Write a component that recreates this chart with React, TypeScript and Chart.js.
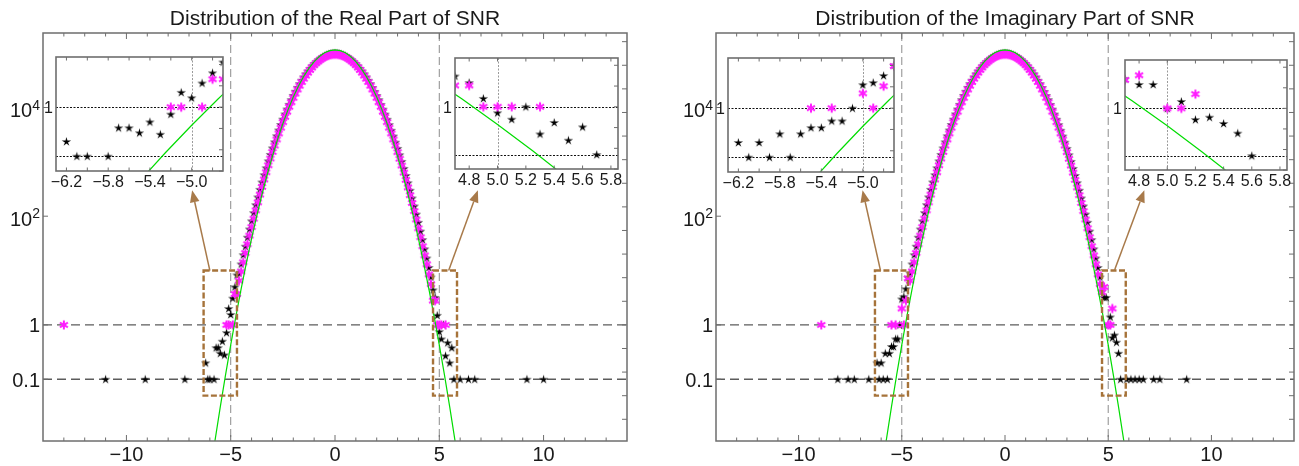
import React, { useEffect, useRef } from 'react';
import { Chart, registerables } from 'chart.js';
Chart.register(...registerables);

const FONT = '"Liberation Sans", Arial, Helvetica, sans-serif';

// ---------------- data ----------------
const CORE_X = [
  -4.6, -4.5, -4.4, -4.3, -4.2, -4.1, -4.0, -3.9, -3.8, -3.7, -3.6, -3.5, -3.4, -3.3, -3.2, -3.1,
  -3.0, -2.9, -2.8, -2.7, -2.6, -2.5, -2.4, -2.3, -2.2, -2.1, -2.0, -1.9, -1.8, -1.7, -1.6, -1.5,
  -1.4, -1.3, -1.2, -1.1, -1.0, -0.9, -0.8, -0.7, -0.6, -0.5, -0.4, -0.3, -0.2, -0.1, 0,
  0.1, 0.2, 0.3, 0.4, 0.5, 0.6, 0.7, 0.8, 0.9, 1.0, 1.1, 1.2, 1.3, 1.4, 1.5, 1.6, 1.7, 1.8, 1.9,
  2.0, 2.1, 2.2, 2.3, 2.4, 2.5, 2.6, 2.7, 2.8, 2.9, 3.0, 3.1, 3.2, 3.3, 3.4, 3.5, 3.6, 3.7, 3.8,
  3.9, 4.0, 4.1, 4.2, 4.3, 4.4, 4.5, 4.6,
];
const CORE_BLACK = [
  9.0, 13.2, 19.5, 28, 41, 58, 82, 116, 162, 226, 312, 425, 578, 775, 1040, 1370,
  1800, 2330, 3010, 3850, 4870, 6110, 7600, 9380, 11450, 13900, 16700, 19900, 23500, 27400, 31800, 36500,
  41500, 46900, 52400, 58100, 63900, 69500, 75100, 80300, 85100, 89400, 93100, 96000, 98200, 99500, 100000,
  99500, 98200, 96000, 93100, 89400, 85100, 80300, 75100, 69500, 63900, 58100, 52400, 46900, 41500, 36500,
  31700, 27400, 23400, 19800, 16600, 13900, 11400, 9330, 7560, 6070, 4830, 3810, 2980, 2300, 1770, 1350,
  1020, 758, 562, 412, 300, 216, 154, 109, 77, 53, 37, 25, 17, 11.4, 7.6,
];
const CORE_MAGENTA = [
  6.5, 9.6, 14.2, 21, 30.5, 44, 63, 90, 128, 180, 250, 346, 474, 642, 864, 1150,
  1520, 1990, 2580, 3330, 4250, 5370, 6730, 8360, 10300, 12500, 15100, 18100, 21500, 25200, 29400, 33900,
  38700, 43900, 49200, 54700, 60300, 65800, 71100, 76200, 80900, 85100, 88700, 91600, 93800, 95100, 95500,
  95100, 93800, 91600, 88700, 85100, 80900, 76200, 71100, 65800, 60300, 54700, 49200, 43900, 38700, 33900,
  29400, 25200, 21500, 18100, 15100, 12500, 10300, 8360, 6730, 5370, 4250, 3330, 2580, 1990, 1510, 1140,
  855, 634, 466, 339, 244, 175, 124, 87, 60, 41, 28, 19, 13, 8.5, 5.6,
];

const GREEN_X = [
  -6, -5.75, -5.5, -5.25, -5, -4.75, -4.5, -4.25, -4, -3.75, -3.5, -3.25, -3, -2.75, -2.5, -2.25,
  -2, -1.75, -1.5, -1.25, -1, -0.75, -0.5, -0.25, 0, 0.25, 0.5, 0.75, 1, 1.25, 1.5, 1.75, 2,
  2.25, 2.5, 2.75, 3, 3.25, 3.5, 3.75, 4, 4.25, 4.5, 4.75, 5, 5.25, 5.5, 5.75, 6,
];
const GREEN_Y = [
  0.00175, 0.0076, 0.031, 0.119, 0.428, 1.45, 4.61, 13.75, 38.6, 101.6, 251.6, 585, 1277, 2621, 5052, 9150,
  15560, 24870, 37340, 52640, 69750, 86800, 101500, 111500, 115000, 111500, 101500, 86800, 69750, 52640,
  37340, 24870, 15560, 9150, 5052, 2621, 1277, 585, 251.6, 101.6, 38.6, 13.75, 4.61, 1.45, 0.428, 0.119,
  0.031, 0.0076, 0.00175,
];

const REAL_BLACK_TAIL_X = [
  -11.0, -9.1, -7.2, -6.2, -6.1, -6.0, -5.8, -5.7, -5.6, -5.5, -5.4, -5.3, -5.2, -5.1, -5.0, -4.9, -4.8, -4.7,
  4.7, 4.8, 4.9, 5.0, 5.1, 5.2, 5.3, 5.4, 5.5, 5.6, 5.7, 6.0, 6.4, 6.7, 9.2, 10.0,
];
const REAL_BLACK_TAIL_Y = [
  0.1, 0.1, 0.1, 0.2, 0.1, 0.1, 0.1, 0.38, 0.38, 0.3, 0.5, 0.28, 0.72, 2.0, 1.55, 3.1, 5.0, 8.3,
  4.4, 3.2, 1.5, 0.75, 0.55, 1.0, 0.27, 0.47, 0.2, 0.38, 0.1, 0.1, 0.1, 0.1, 0.1, 0.1,
];
const REAL_MAGENTA_TAIL_X = [-13.0, -5.2, -5.1, -4.9, -4.8, -4.7, 4.7, 4.8, 4.9, 5.0, 5.1, 5.3];
const REAL_MAGENTA_TAIL_Y = [1, 1, 1, 1, 3.7, 3.7, 2.8, 2.8, 1, 1, 1, 1];

const IMAG_BLACK_TAIL_X = [
  -8.1, -7.6, -7.3, -6.6, -6.2, -6.1, -6.0, -5.9, -5.8, -5.7, -5.6, -5.5, -5.4, -5.3, -5.2, -5.1, -5.0, -4.9, -4.8, -4.7,
  4.7, 4.8, 4.9, 5.0, 5.1, 5.2, 5.3, 5.4, 5.5, 5.6, 5.9, 6.1, 6.3, 6.5, 6.7, 7.2, 7.5, 8.8,
];
const IMAG_BLACK_TAIL_Y = [
  0.1, 0.1, 0.1, 0.1, 0.2, 0.1, 0.2, 0.1, 0.3, 0.1, 0.3, 0.4, 0.4, 0.55, 0.55, 1.0, 3.0, 3.3, 4.6, 7.5,
  4.2, 3.2, 3.2, 1.0, 1.4, 0.58, 0.65, 0.48, 0.3, 0.1, 0.1, 0.1, 0.1, 0.1, 0.1, 0.1, 0.1, 0.1,
];
const IMAG_MAGENTA_TAIL_X = [-8.9, -5.5, -5.3, -5.0, -4.9, -4.8, -4.7, 4.7, 4.8, 5.0, 5.1, 5.2];
const IMAG_MAGENTA_TAIL_Y = [1, 1, 1, 2.0, 1, 2.8, 7.2, 4.0, 5.0, 1, 1, 2.0];

const MAIN_X_TICKS = [-10, -5, 0, 5, 10];
const MAIN_Y_TICKS = [0.1, 1, 100, 10000];
const MAIN_Y_LABELS = [['0.1', ''], ['1', ''], ['10', '2'], ['10', '4']];
const NEG_INSET_TICKS = [-6.2, -5.8, -5.4, -5.0];
const NEG_INSET_LABELS = ['\u22126.2', '\u22125.8', '\u22125.4', '\u22125.0'];
const POS_INSET_TICKS = [4.8, 5.0, 5.2, 5.4, 5.6, 5.8];
const POS_INSET_LABELS = ['4.8', '5.0', '5.2', '5.4', '5.6', '5.8'];

// ---------------- layout / style ----------------
const H = 466;
const MAIN_TOP = 33;
const MAIN_AXIS_H = 25;
const Y_MIN = 0.0073;
const Y_MAX = 2.35e5;
const INSET_Y_MIN = 0.05;
const INSET_Y_MAX = 10.5;
const INSET_PAD_L = 22, INSET_PAD_R = 10, INSET_PAD_T = 2, INSET_AXIS_H = 24;
const BROWN = '#a6733a';
const ARROW = '#a87a4a';
const TEXT = '#1a1a1a';
const FRAME = '#6e6e6e';

const pts = (xs: number[], ys: number[]) => xs.map((x, i) => ({ x, y: ys[i] }));

const PANELS = [
  {
    title: 'Distribution of the Real Part of SNR',
    left: 0, width: 650, padL: 43, padR: 23,
    black: [...pts(REAL_BLACK_TAIL_X, REAL_BLACK_TAIL_Y), ...pts(CORE_X, CORE_BLACK)],
    magenta: [...pts(REAL_MAGENTA_TAIL_X, REAL_MAGENTA_TAIL_Y), ...pts(CORE_X, CORE_MAGENTA)],
    arrows: [[-6.0, 10, -6.85, 300], [5.45, 10, 6.85, 300]],
    insets: [
      { box: [56, 54, 223, 171], xMin: -6.3, xMax: -4.7, ticks: NEG_INSET_TICKS, labels: NEG_INSET_LABELS, vline: -5 },
      { box: [455, 55, 618, 169], xMin: 4.7, xMax: 5.85, ticks: POS_INSET_TICKS, labels: POS_INSET_LABELS, vline: 5 },
    ],
  },
  {
    title: 'Distribution of the Imaginary Part of SNR',
    left: 650, width: 649, padL: 66, padR: 1,
    black: [...pts(IMAG_BLACK_TAIL_X, IMAG_BLACK_TAIL_Y), ...pts(CORE_X, CORE_BLACK)],
    magenta: [...pts(IMAG_MAGENTA_TAIL_X, IMAG_MAGENTA_TAIL_Y), ...pts(CORE_X, CORE_MAGENTA)],
    arrows: [[-6.03, 10, -6.9, 300], [5.3, 10, 6.75, 300]],
    insets: [
      { box: [728, 55, 894, 172], xMin: -6.3, xMax: -4.7, ticks: NEG_INSET_TICKS, labels: NEG_INSET_LABELS, vline: -5 },
      { box: [1125, 57, 1287, 170], xMin: 4.7, xMax: 5.85, ticks: POS_INSET_TICKS, labels: POS_INSET_LABELS, vline: 5 },
    ],
  },
];

// ---------------- markers ----------------
function makeBlackStar() {
  const c = document.createElement('canvas');
  c.width = 11; c.height = 11;
  const g = c.getContext('2d')!;
  g.fillStyle = '#000';
  g.beginPath();
  for (let i = 0; i < 10; i++) {
    const r = i % 2 === 0 ? 4.9 : 1.6;
    const ang = -Math.PI / 2 + (i * Math.PI) / 5;
    const px = 5.5 + r * Math.cos(ang);
    const py = 5.9 + r * Math.sin(ang);
    if (i === 0) g.moveTo(px, py); else g.lineTo(px, py);
  }
  g.closePath();
  g.fill();
  return c;
}
function makeMagentaStar() {
  const c = document.createElement('canvas');
  c.width = 12; c.height = 12;
  const g = c.getContext('2d')!;
  g.strokeStyle = '#ff1eff';
  g.lineWidth = 2;
  [90, 30, 150].forEach((deg) => {
    const t = (deg * Math.PI) / 180;
    const dx = 4.6 * Math.cos(t), dy = 4.6 * Math.sin(t);
    g.beginPath();
    g.moveTo(6 - dx, 6 - dy);
    g.lineTo(6 + dx, 6 + dy);
    g.stroke();
  });
  return c;
}

const fmtNum = (v: number) => (v < 0 ? '\u2212' + Math.abs(v) : String(v));

function datasets(p: any, imgs: any) {
  return [
    { label: 'fit', data: pts(GREEN_X, GREEN_Y), showLine: true, pointRadius: 0, borderColor: '#00dc00', borderWidth: 1.2, order: 0, clip: 0 },
    { label: 'magenta', data: p.magenta, pointStyle: imgs.m, pointRadius: 4, order: 1, clip: 0 },
    { label: 'black', data: p.black, pointStyle: imgs.b, pointRadius: 4, order: 2, clip: 0 },
  ];
}

function drawArrow(ctx: CanvasRenderingContext2D, x0: number, y0: number, x1: number, y1: number) {
  const ang = Math.atan2(y1 - y0, x1 - x0);
  const L = 12, Wd = 4.8;
  const bx = x1 - L * Math.cos(ang), by = y1 - L * Math.sin(ang);
  ctx.beginPath(); ctx.moveTo(x0, y0); ctx.lineTo(bx, by); ctx.stroke();
  ctx.beginPath();
  ctx.moveTo(x1, y1);
  ctx.lineTo(bx + Wd * Math.sin(ang), by - Wd * Math.cos(ang));
  ctx.lineTo(bx - Wd * Math.sin(ang), by + Wd * Math.cos(ang));
  ctx.closePath();
  ctx.fill();
}

function mainPlugin(p: any) {
  return {
    id: 'mainDecor',
    beforeDatasetsDraw(chart: any) {
      const { ctx, chartArea: a } = chart;
      const x = chart.scales.x, y = chart.scales.y;
      ctx.save();
      ctx.beginPath(); ctx.rect(a.left, a.top, a.right - a.left, a.bottom - a.top); ctx.clip();
      ctx.lineWidth = 1.3; ctx.strokeStyle = '#5c5c5c'; ctx.setLineDash([9, 5]);
      [1, 0.1].forEach((v) => {
        const py = y.getPixelForValue(v);
        ctx.beginPath(); ctx.moveTo(a.left, py); ctx.lineTo(a.right, py); ctx.stroke();
      });
      ctx.lineWidth = 1; ctx.strokeStyle = '#8c8c8c'; ctx.setLineDash([8, 4]);
      [-5, 5].forEach((v) => {
        const px = x.getPixelForValue(v);
        ctx.beginPath(); ctx.moveTo(px, a.top); ctx.lineTo(px, a.bottom); ctx.stroke();
      });
      ctx.restore();
    },
    afterDatasetsDraw(chart: any) {
      const { ctx } = chart;
      const x = chart.scales.x, y = chart.scales.y;
      ctx.save();
      ctx.strokeStyle = BROWN; ctx.lineWidth = 2.4; ctx.setLineDash([6, 2.5]);
      p.insets.forEach((ins: any) => {
        const x0 = x.getPixelForValue(ins.xMin), x1 = x.getPixelForValue(ins.xMax);
        const y0 = y.getPixelForValue(10), y1 = y.getPixelForValue(0.05);
        ctx.strokeRect(x0, y0, x1 - x0, y1 - y0);
      });
      ctx.setLineDash([]); ctx.lineWidth = 1.5; ctx.strokeStyle = ARROW; ctx.fillStyle = ARROW;
      p.arrows.forEach((ar: number[]) => {
        drawArrow(ctx, x.getPixelForValue(ar[0]), y.getPixelForValue(ar[1]), x.getPixelForValue(ar[2]), y.getPixelForValue(ar[3]));
      });
      ctx.restore();
    },
    afterDraw(chart: any) {
      const { ctx, chartArea: a } = chart;
      const x = chart.scales.x, y = chart.scales.y;
      ctx.save();
      // frame
      ctx.strokeStyle = FRAME; ctx.lineWidth = 1.5;
      ctx.strokeRect(a.left, a.top, a.right - a.left, a.bottom - a.top);
      ctx.lineWidth = 1;
      // x ticks (bottom & top)
      for (let v = -13; v <= 13; v++) {
        const px = x.getPixelForValue(v);
        const len = v % 5 === 0 ? 6 : 3.5;
        ctx.beginPath();
        ctx.moveTo(px, a.bottom); ctx.lineTo(px, a.bottom - len);
        ctx.moveTo(px, a.top); ctx.lineTo(px, a.top + len);
        ctx.stroke();
      }
      // right ticks at e^k
      for (let k = -4; k <= 12; k++) {
        const py = y.getPixelForValue(Math.exp(k));
        if (py < a.top || py > a.bottom) continue;
        ctx.beginPath(); ctx.moveTo(a.right, py); ctx.lineTo(a.right - 5, py); ctx.stroke();
      }
      // left ticks + labels
      ctx.fillStyle = TEXT; ctx.textAlign = 'right'; ctx.textBaseline = 'alphabetic';
      MAIN_Y_TICKS.forEach((v, i) => {
        const py = y.getPixelForValue(v);
        ctx.beginPath(); ctx.moveTo(a.left, py); ctx.lineTo(a.left + 5, py); ctx.stroke();
        const [base, exp] = MAIN_Y_LABELS[i];
        const rx = a.left - 3;
        if (exp) {
          ctx.font = `14px ${FONT}`;
          const we = ctx.measureText(exp).width;
          ctx.fillText(exp, rx, py + 2);
          ctx.font = `20px ${FONT}`;
          ctx.fillText(base, rx - we, py + 9.5);
        } else {
          ctx.font = `20px ${FONT}`;
          ctx.fillText(base, rx, py + 7.5);
        }
      });
      // title
      ctx.font = `21px ${FONT}`; ctx.textAlign = 'center';
      ctx.fillText(p.title, (a.left + a.right) / 2, 25);
      ctx.restore();
    },
  };
}

function insetPlugin(ins: any) {
  return {
    id: 'insetDecor',
    beforeDraw(chart: any) {
      const { ctx, chartArea: a } = chart;
      ctx.save(); ctx.fillStyle = '#fff';
      ctx.fillRect(a.left, a.top, a.right - a.left, a.bottom - a.top);
      ctx.restore();
    },
    beforeDatasetsDraw(chart: any) {
      const { ctx, chartArea: a } = chart;
      const x = chart.scales.x, y = chart.scales.y;
      ctx.save();
      ctx.lineWidth = 1; ctx.strokeStyle = '#111'; ctx.setLineDash([2, 1.5]);
      [1, 0.1].forEach((v) => {
        const py = Math.round(y.getPixelForValue(v)) + 0.5;
        ctx.beginPath(); ctx.moveTo(a.left, py); ctx.lineTo(a.right, py); ctx.stroke();
      });
      ctx.strokeStyle = '#9a9a9a';
      const px = Math.round(x.getPixelForValue(ins.vline)) + 0.5;
      ctx.beginPath(); ctx.moveTo(px, a.top); ctx.lineTo(px, a.bottom); ctx.stroke();
      ctx.restore();
    },
    afterDraw(chart: any) {
      const { ctx, chartArea: a } = chart;
      const x = chart.scales.x, y = chart.scales.y;
      ctx.save();
      ctx.strokeStyle = FRAME; ctx.lineWidth = 1.6;
      ctx.strokeRect(a.left, a.top, a.right - a.left, a.bottom - a.top);
      ctx.lineWidth = 1;
      const start = Math.ceil(ins.xMin / 0.2 - 1e-6);
      const end = Math.floor(ins.xMax / 0.2 + 1e-6);
      for (let k = start; k <= end; k++) {
        const px = x.getPixelForValue(k * 0.2);
        ctx.beginPath();
        ctx.moveTo(px, a.top); ctx.lineTo(px, a.top + 3.5);
        ctx.moveTo(px, a.bottom); ctx.lineTo(px, a.bottom - 3.5);
        ctx.stroke();
      }
      for (let k = -3; k <= 2; k++) {
        const py = y.getPixelForValue(Math.exp(k));
        ctx.beginPath(); ctx.moveTo(a.right, py); ctx.lineTo(a.right - 4, py); ctx.stroke();
      }
      ctx.fillStyle = TEXT; ctx.font = `16px ${FONT}`; ctx.textAlign = 'right'; ctx.textBaseline = 'alphabetic';
      ctx.fillText('1', a.left - 3, y.getPixelForValue(1) + 6);
      ctx.restore();
    },
  };
}

const offPlugins = { legend: { display: false }, tooltip: { enabled: false }, title: { display: false } };

function mainConfig(p: any, imgs: any): any {
  return {
    type: 'scatter',
    data: { datasets: datasets(p, imgs) },
    options: {
      responsive: false, animation: false, events: [],
      layout: { padding: { left: p.padL, right: p.padR, top: MAIN_TOP, bottom: 0 } },
      plugins: offPlugins,
      scales: {
        x: {
          type: 'linear', min: -14, max: 14,
          grid: { display: false, drawTicks: false }, border: { display: false },
          afterFit: (s: any) => { s.height = MAIN_AXIS_H; },
          afterBuildTicks: (s: any) => { s.ticks = MAIN_X_TICKS.map((v) => ({ value: v })); },
          ticks: { font: { family: FONT, size: 20 }, color: TEXT, padding: 2, autoSkip: false, maxRotation: 0, callback: (v: number) => fmtNum(v) },
        },
        y: { type: 'logarithmic', min: Y_MIN, max: Y_MAX, display: false },
      },
    },
    plugins: [mainPlugin(p)],
  };
}

function insetConfig(p: any, ins: any, imgs: any): any {
  return {
    type: 'scatter',
    data: { datasets: datasets(p, imgs) },
    options: {
      responsive: false, animation: false, events: [],
      layout: { padding: { left: INSET_PAD_L, right: INSET_PAD_R, top: INSET_PAD_T, bottom: 0 } },
      plugins: offPlugins,
      scales: {
        x: {
          type: 'linear', min: ins.xMin, max: ins.xMax,
          grid: { display: false, drawTicks: false }, border: { display: false },
          afterFit: (s: any) => { s.height = INSET_AXIS_H; },
          afterBuildTicks: (s: any) => { s.ticks = ins.ticks.map((v: number) => ({ value: v })); },
          ticks: { font: { family: FONT, size: 16 }, color: TEXT, padding: 2, autoSkip: false, maxRotation: 0, callback: (_v: number, i: number) => ins.labels[i] },
        },
        y: { type: 'logarithmic', min: INSET_Y_MIN, max: INSET_Y_MAX, display: false },
      },
    },
    plugins: [insetPlugin(ins)],
  };
}

export default function App() {
  const refs = useRef<(HTMLCanvasElement | null)[]>([]);
  useEffect(() => {
    Chart.defaults.font.family = FONT;
    const imgs = { b: makeBlackStar(), m: makeMagentaStar() };
    const charts: Chart[] = [];
    PANELS.forEach((p, pi) => {
      const mc = refs.current[pi * 3];
      if (mc) charts.push(new Chart(mc, mainConfig(p, imgs)));
      p.insets.forEach((ins, ii) => {
        const ic = refs.current[pi * 3 + 1 + ii];
        if (ic) charts.push(new Chart(ic, insetConfig(p, ins, imgs)));
      });
    });
    return () => charts.forEach((c) => c.destroy());
  }, []);

  const canvases: any[] = [];
  PANELS.forEach((p, pi) => {
    canvases.push(
      <canvas key={`m${pi}`} ref={(el) => { refs.current[pi * 3] = el; }} width={p.width} height={H}
        style={{ position: 'absolute', left: p.left, top: 0 }} />
    );
    p.insets.forEach((ins, ii) => {
      const [l, t, r, b] = ins.box;
      canvases.push(
        <canvas key={`i${pi}${ii}`} ref={(el) => { refs.current[pi * 3 + 1 + ii] = el; }}
          width={r - l + INSET_PAD_L + INSET_PAD_R} height={b - t + INSET_PAD_T + INSET_AXIS_H}
          style={{ position: 'absolute', left: l - INSET_PAD_L, top: t - INSET_PAD_T }} />
      );
    });
  });

  return (
    <div style={{ position: 'fixed', left: 0, top: 0, width: 1299, height: H, background: '#fff', overflow: 'hidden' }}>
      {canvases}
    </div>
  );
}
